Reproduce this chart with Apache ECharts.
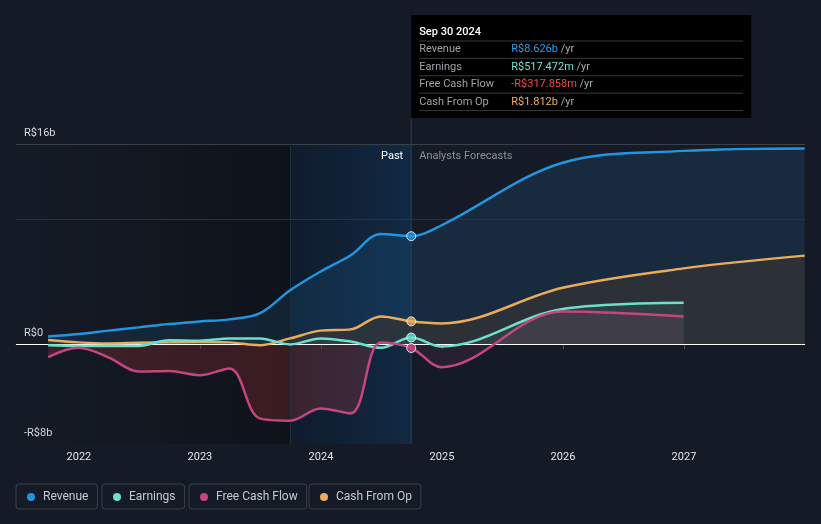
<!DOCTYPE html>
<html>
<head>
<meta charset="utf-8">
<script src="https://cdn.jsdelivr.net/npm/echarts@6/dist/echarts.min.js"></script>
<style>
html,body{margin:0;padding:0;background:#151b26;}
#c{width:821px;height:524px;}
</style>
</head>
<body>
<div id="c"></div>
<script>
// ---- data (values in R$ billions) ----
const pastDates = ['2021-09-30','2021-12-31','2022-03-31','2022-06-30','2022-09-30','2022-12-31','2023-03-31','2023-06-30','2023-09-30','2023-12-31','2024-03-31','2024-06-30','2024-09-30'];
const revenuePast  = [0.6, 0.8, 1.07, 1.33, 1.6, 1.8, 1.97, 2.45, 4.3, 5.8, 7.1, 8.8, 8.626];
const earningsPast = [-0.1, -0.15, -0.15, -0.15, 0.3, 0.27, 0.45, 0.45, -0.03, 0.45, 0.2, -0.3, 0.517];
const fcfPast      = [-1.05, -0.3, -1.07, -2.2, -2.15, -2.5, -1.95, -5.95, -6.13, -5.15, -5.55, 0.13, -0.318];
const cfoPast      = [0.32, 0.13, 0.05, 0.1, 0.13, 0.16, 0.13, -0.1, 0.45, 1.07, 1.17, 2.2, 1.812];

const forecastDates    = ['2024-09-30','2024-12-31','2025-12-31','2026-12-31','2027-12-31'];
const revenueForecast  = [8.626, 9.5, 14.5, 15.45, 15.65];
const cfoForecast      = [1.812, 1.65, 4.5, 6.05, 7.07];
const earningsForecast = [0.517, -0.2, 2.8, 3.3];
const fcfForecast      = [-0.318, -1.85, 2.6, 2.2];

const yearTicks = [2022, 2023, 2024, 2025, 2026, 2027];
const yTickLabels = {'16': 'R$16b', '0': 'R$0', '-8': '-R$8b'};
const tooltipTitle = 'Sep 30 2024';
const tooltipRows = [
  ['Revenue', 'R$8.626b', '#2f9bea'],
  ['Earnings', 'R$517.472m', '#6fe3d0'],
  ['Free Cash Flow', '-R$317.858m', '#f04a46'],
  ['Cash From Op', 'R$1.812b', '#f2b35e']
];

const COL = {rev:'#2394df', earn:'#6ce0cc', fcf:'#c4467f', cfo:'#eaab5c'};

function toYear(s){
  const d = Date.parse(s + 'T00:00:00Z');
  const y = +s.slice(0,4);
  const a = Date.UTC(y,0,1), b = Date.UTC(y+1,0,1);
  return y + (d - a) / (b - a);
}
function pts(dates, vals){ return vals.map((v,i)=>[toYear(dates[i]), v]); }

const xMin = 2021.48, xMax = 2028.0;
const nowX = toYear(pastDates[pastDates.length-1]);
const pastStart = toYear('2023-09-30');

const revenueAll  = pts(pastDates, revenuePast).concat(pts(forecastDates.slice(1), revenueForecast.slice(1)));
const cfoAll      = pts(pastDates, cfoPast).concat(pts(forecastDates.slice(1), cfoForecast.slice(1)));
const earningsAll = pts(pastDates, earningsPast).concat(pts(forecastDates.slice(1,4), earningsForecast.slice(1)));
const fcfAll      = pts(pastDates, fcfPast).concat(pts(forecastDates.slice(1,4), fcfForecast.slice(1)));

const chart = echarts.init(document.getElementById('c'));
const FONT = 'Roboto, "Noto Sans", sans-serif';
const SMOOTH = 0.35;

function areaSeries(data, color, z){
  return {type:'line', data, smooth:SMOOTH, symbol:'none', silent:true,
    lineStyle:{width:0}, areaStyle:{color, opacity:1}, z, legendHoverLink:false, tooltip:{show:false}};
}
function lineSeries(name, data, color){
  return {name, type:'line', data, smooth:SMOOTH, symbol:'none',
    lineStyle:{width:2.5, color}, itemStyle:{color}, z:5};
}
function legendBox(name, left){
  return {data:[{name, icon:'circle'}], left, top:484, itemWidth:8, itemHeight:8,
    padding:[7,9,6,11], borderColor:'#3a4049', borderWidth:1, borderRadius:3,
    selectedMode:false,
    textStyle:{color:'#c6cad0', fontSize:12, fontFamily:FONT, padding:[0,0,0,3]}};
}

const last = pastDates.length - 1;
const markers = [
  {value:[nowX, revenuePast[last]], itemStyle:{color:COL.rev}},
  {value:[nowX, cfoPast[last]], itemStyle:{color:COL.cfo}},
  {value:[nowX, earningsPast[last]], itemStyle:{color:COL.earn}},
  {value:[nowX, fcfPast[last]], itemStyle:{color:COL.fcf}}
];

chart.setOption({
  backgroundColor:'#151b26',
  animation:false,
  textStyle:{fontFamily:FONT},
  grid:{left:16, right:16, top:144, bottom:80},
  xAxis:{type:'value', min:xMin, max:xMax,
    axisLine:{lineStyle:{color:'#4b5058'}},
    axisTick:{customValues:yearTicks, length:5, lineStyle:{color:'#4b5058'}},
    axisLabel:{customValues:yearTicks, formatter:v=>String(Math.round(v)), color:'#e4e6ea', fontSize:11, margin:8, fontFamily:FONT},
    splitLine:{show:false}},
  yAxis:{type:'value', min:-8, max:16, interval:8,
    axisLine:{show:false}, axisTick:{show:false}, splitLine:{show:false},
    axisLabel:{inside:true, margin:8, verticalAlign:'bottom', padding:[0,0,5,0],
      color:'#d8dbdf', fontSize:11, fontFamily:FONT,
      formatter:v=>yTickLabels[String(v)] || ''}},
  legend:[legendBox('Revenue',16), legendBox('Earnings',102), legendBox('Free Cash Flow',189), legendBox('Cash From Op',309)],
  series:[
    {type:'line', data:[], silent:true, z:0,
      markArea:{silent:true, data:[
        [{xAxis:xMin, itemStyle:{color:new echarts.graphic.LinearGradient(0,0,1,0,[{offset:0,color:'rgba(0,0,0,0)'},{offset:1,color:'rgba(0,0,0,0.32)'}])}},{xAxis:pastStart}],
        [{xAxis:pastStart, itemStyle:{color:new echarts.graphic.LinearGradient(0,0,1,0,[{offset:0,color:'rgba(0,30,60,0.28)'},{offset:1,color:'rgba(10,70,125,0.34)'}])}},{xAxis:nowX}]
      ]},
      markLine:{silent:true, symbol:'none', label:{show:false},
        data:[
          {yAxis:16, lineStyle:{color:'#3a4049', width:1, type:'solid'}},
          {yAxis:10, lineStyle:{color:'#2c323b', width:1, type:'solid'}},
          {xAxis:pastStart, lineStyle:{color:'#1f2e3d', width:1, type:'solid'}}
        ]}},
    areaSeries(revenueAll, 'rgba(35,148,223,0.13)', 1),
    areaSeries(cfoAll, 'rgba(52,52,52,0.72)', 1),
    areaSeries(earningsAll, 'rgba(108,229,205,0.07)', 1),
    areaSeries(pts(pastDates, fcfPast), 'rgba(232,64,60,0.2)', 1),
    areaSeries(pts(forecastDates.slice(0,4), fcfForecast), 'rgba(199,74,133,0.1)', 1),
    {type:'line', data:[], silent:true, z:3,
      markLine:{silent:true, symbol:'none', label:{show:false},
        data:[{yAxis:0, lineStyle:{color:'#ffffff', width:1, type:'solid'}}]}},
    lineSeries('Revenue', revenueAll, COL.rev),
    lineSeries('Cash From Op', cfoAll, COL.cfo),
    lineSeries('Earnings', earningsAll, COL.earn),
    lineSeries('Free Cash Flow', fcfAll, COL.fcf),
    {type:'scatter', data:markers, symbolSize:9, silent:true, z:8,
      itemStyle:{borderColor:'#ffffff', borderWidth:1}}
  ]
});

// overlay: "now" line, Past / Forecast labels, tooltip box
const px = chart.convertToPixel({xAxisIndex:0}, nowX);
const gridTop = chart.convertToPixel({yAxisIndex:0}, 16);
const gridBottom = chart.convertToPixel({yAxisIndex:0}, -8);
const boxTop = 15, boxH = 103, boxW = 340;
const g = [
  {type:'line', shape:{x1:px, y1:boxTop+boxH, x2:px, y2:gridBottom}, style:{stroke:'#24415a', lineWidth:1}, z:4, silent:true},
  {type:'text', x:px-8, y:gridTop+12, style:{text:'Past', fill:'#ffffff', font:'11px '+FONT, align:'right', verticalAlign:'middle'}, z:10},
  {type:'text', x:px+8, y:gridTop+12, style:{text:'Analysts Forecasts', fill:'#8b9199', font:'11px '+FONT, align:'left', verticalAlign:'middle'}, z:10},
  {type:'rect', shape:{x:px, y:boxTop, width:boxW, height:boxH}, style:{fill:'#000000'}, z:20},
  {type:'text', x:px+8, y:boxTop+17, style:{text:tooltipTitle, fill:'#ffffff', font:'500 11px '+FONT, verticalAlign:'middle'}, z:21}
];
const sepY0 = boxTop + 26, step = 17.4;
for (let i=0;i<=tooltipRows.length;i++){
  g.push({type:'line', shape:{x1:px+8, y1:sepY0+i*step, x2:px+boxW-8, y2:sepY0+i*step}, style:{stroke:'#3a3a3a', lineWidth:1}, z:21});
}
tooltipRows.forEach((r,i)=>{
  const cy = sepY0 + i*step + step/2;
  g.push({type:'text', x:px+8, y:cy, style:{text:r[0], fill:'#9ea2a8', font:'11px '+FONT, verticalAlign:'middle'}, z:21});
  g.push({type:'text', x:px+100, y:cy, style:{
    text:'{v|'+r[1]+'}{u| /yr}', verticalAlign:'middle',
    rich:{v:{fill:r[2], font:'11px '+FONT}, u:{fill:'#a8abb0', font:'11px '+FONT}}}, z:21});
});
chart.setOption({graphic:g});
</script>
</body>
</html>
